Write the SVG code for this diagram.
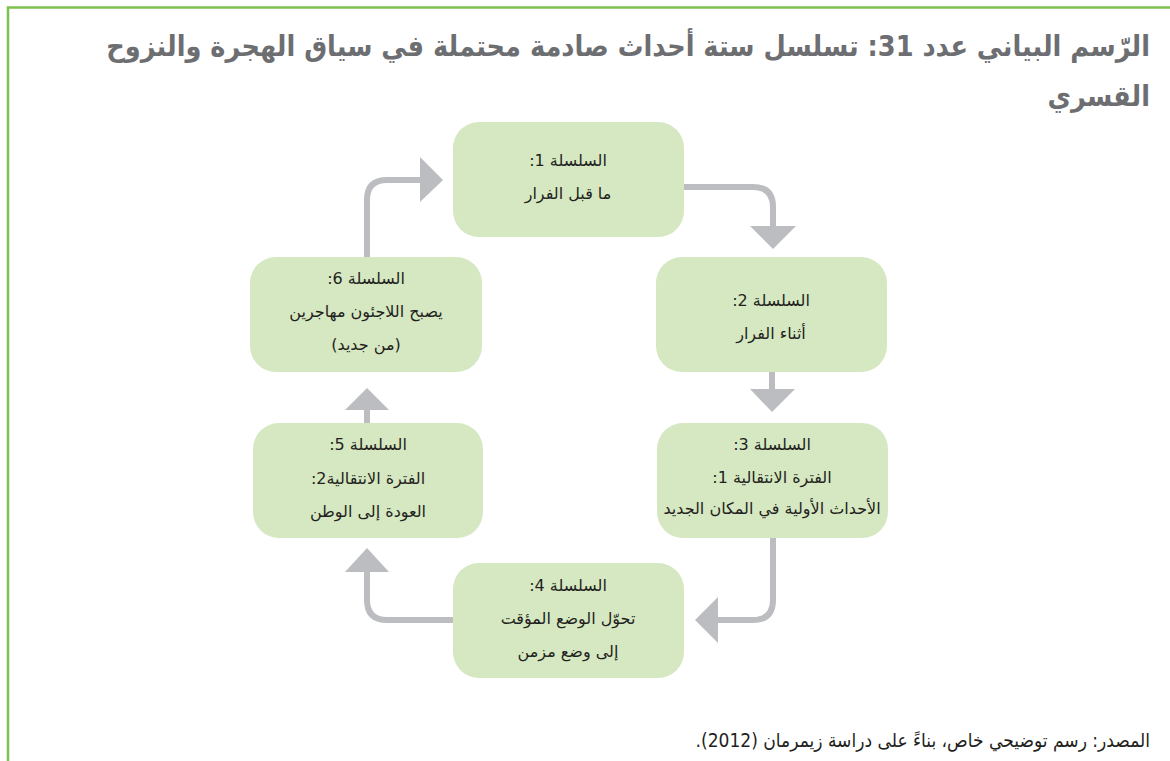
<svg xmlns="http://www.w3.org/2000/svg" width="1170" height="761" viewBox="0 0 1170 761">
<style>
.frame{stroke:#7cc24e;stroke-width:2.5;fill:none}
.title{font-family:"DejaVu Sans Condensed","DejaVu Sans",sans-serif;font-weight:bold;font-size:28.5px;fill:#6d6e71}
.node rect{fill:#d5e8c2}
.node text{font-family:"DejaVu Sans","Noto Sans",sans-serif;font-size:16px;fill:#231f20;text-anchor:middle}
.conn path{stroke:#bcbdc0;stroke-width:6;fill:none}
.conn polygon{fill:#bcbdc0}
.src{font-family:"DejaVu Sans Condensed","DejaVu Sans",sans-serif;font-size:19px;fill:#231f20}
</style>
<rect width="1170" height="761" fill="#ffffff"/>
<path class="frame" d="M8,761 V7.5 H1170"/>
<text class="title" x="1150" y="56" direction="rtl" text-anchor="start">الرّسم البياني عدد 31: تسلسل ستة أحداث صادمة محتملة في سياق الهجرة والنزوح</text>
<text class="title" x="1150" y="106" direction="rtl" text-anchor="start">القسري</text>
<g class="conn">
<path d="M684,187 H753 Q773,187 773,207 V227"/>
<polygon points="750,226 796,226 773,249"/>
<path d="M772,372 V390"/>
<polygon points="750,389 795,389 772,412"/>
<path d="M773,538 V600 Q773,620 753,620 H717"/>
<polygon points="718,597 718,643 695,620"/>
<path d="M453,620 H387 Q367,620 367,600 V571"/>
<polygon points="345,572 389,572 367,548"/>
<path d="M367,423 V409"/>
<polygon points="345,410 389,410 367,388"/>
<path d="M367,257 V200 Q367,180 387,180 H421"/>
<polygon points="420,157 420,202 443,180"/>
</g>
<g id="node1" class="node"><rect x="453" y="122" width="231" height="115" rx="26"/>
<text x="568" y="166" direction="rtl">السلسلة 1:</text><text x="568" y="199" direction="rtl">ما قبل الفرار</text></g>
<g id="node2" class="node"><rect x="656" y="257" width="231" height="115" rx="26"/>
<text x="771" y="306" direction="rtl">السلسلة 2:</text><text x="771" y="339" direction="rtl">أثناء الفرار</text></g>
<g id="node3" class="node"><rect x="657" y="423" width="231" height="115" rx="26"/>
<text x="772" y="450" direction="rtl">السلسلة 3:</text><text x="772" y="483" direction="rtl">الفترة الانتقالية 1:</text><text x="772" y="514" direction="rtl">الأحداث الأولية في المكان الجديد</text></g>
<g id="node4" class="node"><rect x="453" y="563" width="231" height="115" rx="26"/>
<text x="568" y="591" direction="rtl">السلسلة 4:</text><text x="568" y="624" direction="rtl">تحوّل الوضع المؤقت</text><text x="568" y="657" direction="rtl">إلى وضع مزمن</text></g>
<g id="node5" class="node"><rect x="253" y="423" width="230" height="115" rx="26"/>
<text x="368" y="450" direction="rtl">السلسلة 5:</text><text x="368" y="484" direction="rtl">الفترة الانتقالية2:</text><text x="368" y="517" direction="rtl">العودة إلى الوطن</text></g>
<g id="node6" class="node"><rect x="250" y="257" width="232" height="115" rx="26"/>
<text x="366" y="284" direction="rtl">السلسلة 6:</text><text x="366" y="317" direction="rtl">يصبح اللاجئون مهاجرين</text><text x="366" y="350" direction="rtl">(من جديد)</text></g>
<text class="src" x="1150" y="747" direction="rtl" text-anchor="start">المصدر: رسم توضيحي خاص، بناءً على دراسة زيمرمان (2012).</text>
</svg>
